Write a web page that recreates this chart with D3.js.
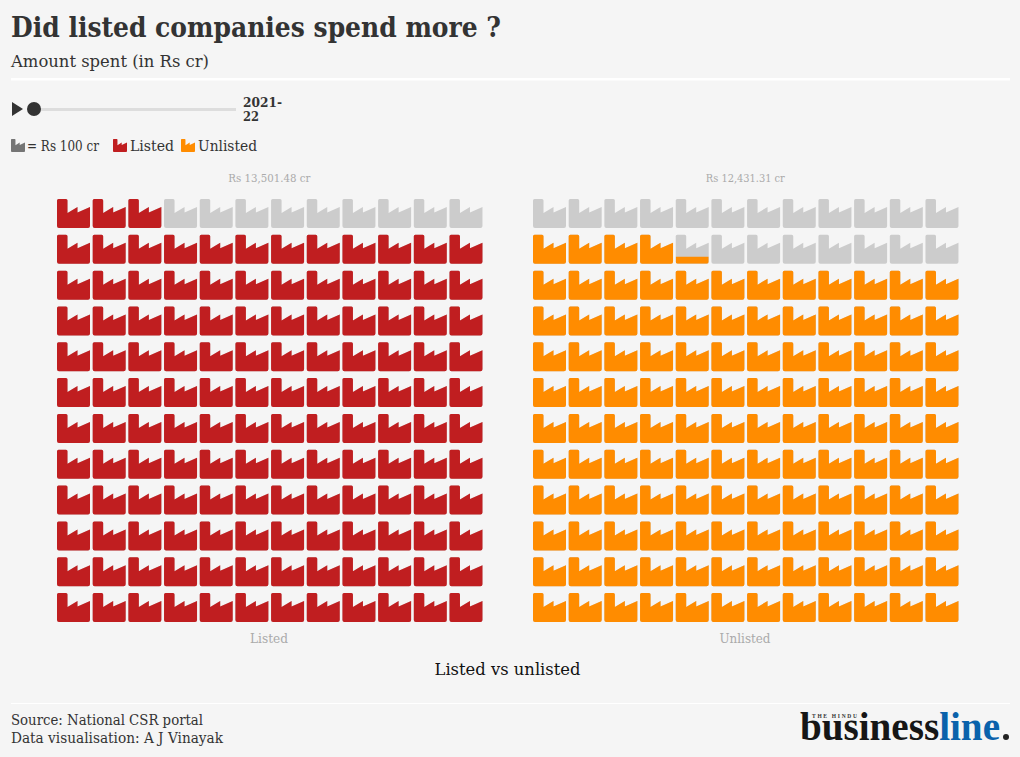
<!DOCTYPE html>
<html><head><meta charset="utf-8">
<script src="https://cdnjs.cloudflare.com/ajax/libs/d3/7.8.5/d3.min.js"></script>
<style>html,body{margin:0;padding:0;background:#f5f5f5}svg{display:block}
text{font-family:"DejaVu Serif Condensed","DejaVu Serif",serif}</style></head>
<body><svg id="c" width="1020" height="757"></svg>
<script>
const panels = ["Listed","Unlisted"];
const amounts = [13501.48, 12431.31];
const amountLabels = ["Rs 13,501.48 cr","Rs 12,431.31 cr"];
const colors = ["#c01e20","#ff8c00"];
const emptyColor = "#cccccc";
const unit = 100, perRow = 12, rows = 12;
const years = ["2021-22"];

const svg = d3.select("#c");
const iconW = 33, iconH = 29, stepX = 35.68, stepY = 35.82;
const factory = "M0,1.5Q0,0 1.5,0H9Q10.5,0 10.5,1.5V14L20.5,8V13.5L33,8V27Q33,29 31,29H2Q0,29 0,27Z";
const defs = svg.append("defs");
function txt(x,y,s,size,fill,opts={}){
  const t = svg.append("text").attr("x",x).attr("y",y).text(s).attr("font-size",size).attr("fill",fill);
  if(opts.anchor) t.attr("text-anchor",opts.anchor);
  if(opts.weight) t.attr("font-weight",opts.weight);
  if(opts.len) t.attr("textLength",opts.len).attr("lengthAdjust","spacingAndGlyphs");
  return t;
}
txt(11,37,"Did listed companies spend more ?",27.5,"#333",{weight:700,len:490});
txt(11,67,"Amount spent (in Rs cr)",17,"#333",{len:198});
svg.append("rect").attr("x",11).attr("y",78).attr("width",999).attr("height",2.5).attr("fill","#fff");

// slider
const slider = d3.scalePoint().domain(years).range([34,236]).align(0);
svg.append("path").attr("d","M12,102L23,109L12,116Z").attr("fill","#333");
svg.append("rect").attr("x",34).attr("y",108).attr("width",202).attr("height",3).attr("fill","#ddd");
svg.append("circle").attr("cx",slider(years[0])).attr("cy",109).attr("r",7).attr("fill","#333");
txt(243,107,"2021-",12,"#333",{weight:700,len:39});
txt(243,121,"22",12,"#333",{weight:700,len:16});

// legend
function legendIcon(x,fill){
  svg.append("path").attr("d",factory).attr("transform",`translate(${x},139) scale(${14/iconW},${13/iconH})`).attr("fill",fill);
}
legendIcon(11,"#757575"); legendIcon(113,colors[0]); legendIcon(181,colors[1]);
txt(27,151,"= Rs 100 cr",14,"#333",{len:72});
txt(130,151,"Listed",14,"#333",{len:44});
txt(198,151,"Unlisted",14,"#333",{len:59});

// waffles
const xOrigins = [57,533];
const yScale = d3.scaleBand().domain(d3.range(rows)).range([199,199+stepY*(rows-1)+iconH]).paddingInner(1-iconH/stepY).paddingOuter(0).align(0);
panels.forEach((p,pi)=>{
  const xScale = d3.scaleBand().domain(d3.range(perRow)).range([xOrigins[pi],xOrigins[pi]+stepX*(perRow-1)+iconW]).paddingInner(1-iconW/stepX).paddingOuter(0).align(0);
  const n = amounts[pi]/unit;
  const inset = 2; // the icon's glyph box sits slightly below the icon's bottom edge
  const cells = d3.range(perRow*rows).map(i=>{
    const fromBottom = Math.floor(i/perRow);
    return {i,col:i%perRow,row:rows-1-fromBottom,frac:Math.max(0,Math.min(1,n-i))};
  });
  const fillH = d => Math.max(0,iconH*d.frac-inset);
  txt(xOrigins[pi]+212.3,182,amountLabels[pi],11.5,"#aaa",{anchor:"middle",len:pi?79:82});
  const g = svg.append("g");
  const cell = g.selectAll("g").data(cells).join("g").attr("transform",d=>`translate(${xScale(d.col)},${yScale(d.row)})`);
  cell.append("path").attr("d",factory).attr("fill",emptyColor);
  cells.filter(d=>d.frac>0&&d.frac<1&&fillH(d)>0).forEach(d=>{
    defs.append("clipPath").attr("id",`cp${pi}-${d.i}`).append("rect")
      .attr("x",0).attr("y",iconH-fillH(d)).attr("width",iconW).attr("height",fillH(d));
  });
  cell.filter(d=>d.frac===1||fillH(d)>0).append("path").attr("d",factory).attr("fill",colors[pi])
    .attr("clip-path",d=>d.frac<1?`url(#cp${pi}-${d.i})`:null);
  txt(pi?745:269,643,p,12.5,"#aaa",{anchor:"middle",len:pi?51:38});
});
txt(507.5,675,"Listed vs unlisted",17.5,"#111",{anchor:"middle",len:146});

// footer
svg.append("rect").attr("x",11).attr("y",703).attr("width",999).attr("height",1).attr("fill","#fff");
txt(11,725,"Source: National CSR portal",14,"#333",{len:192});
txt(11,743,"Data visualisation: A J Vinayak",14,"#333",{len:212});

// wordmark
svg.append("text").attr("x",812).attr("y",718).attr("font-size",5.5).attr("fill","#333").attr("font-weight",700)
  .style("font-family","Liberation Serif").attr("textLength",45).text("THE HINDU");
const logo = svg.append("text").attr("x",800).attr("y",740).attr("font-size",39).attr("font-weight",700)
  .style("font-family","Liberation Serif").attr("textLength",200).attr("lengthAdjust","spacingAndGlyphs");
logo.append("tspan").attr("fill","#161616").text("business");
logo.append("tspan").attr("fill","#0a62ab").text("line");
svg.append("circle").attr("cx",1006).attr("cy",737).attr("r",3).attr("fill","#222");
</script></body></html>
